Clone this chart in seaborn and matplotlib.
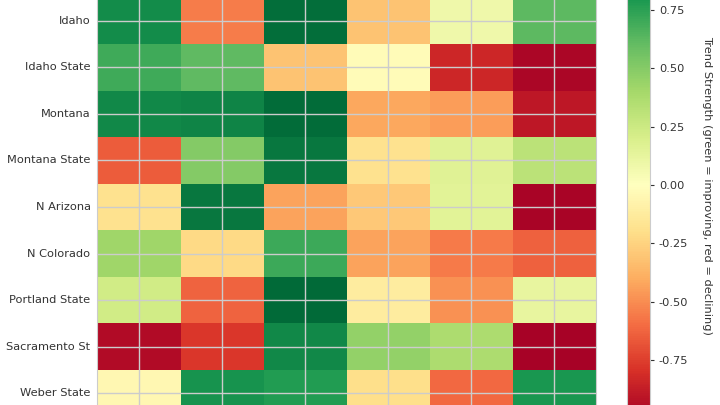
import numpy as np
import pandas as pd
import matplotlib
matplotlib.use("Agg")
import matplotlib.pyplot as plt
import seaborn as sns

# teams shown in the heatmap (rows)
teams = ["Idaho", "Idaho State", "Montana", "Montana State", "N Arizona",
         "N Colorado", "Portland State", "Sacramento St", "Weber State"]

# columns (their labels fall below the visible area)
metrics = ["Metric 1", "Metric 2", "Metric 3", "Metric 4", "Metric 5", "Metric 6"]

# trend strength per team
idaho = [0.85, -0.55, 0.97, -0.32, 0.08, 0.62]
idaho_state = [0.70, 0.61, -0.32, -0.03, -0.84, -0.97]
montana = [0.86, 0.88, 0.98, -0.42, -0.45, -0.90]
montana_state = [-0.65, 0.50, 0.93, -0.18, 0.16, 0.32]
n_arizona = [-0.18, 0.93, -0.43, -0.29, 0.15, -0.98]
n_colorado = [0.42, -0.22, 0.71, -0.43, -0.56, -0.64]
portland_state = [0.23, -0.63, 0.99, -0.12, -0.49, 0.12]
sacramento_st = [-0.95, -0.78, 0.86, 0.46, 0.37, -0.99]
weber_state = [-0.05, 0.82, 0.78, -0.20, -0.61, 0.80]

df = pd.DataFrame([idaho, idaho_state, montana, montana_state, n_arizona,
                   n_colorado, portland_state, sacramento_st, weber_state],
                  index=teams, columns=metrics)

sns.set_style("whitegrid")

fig = plt.figure(figsize=(7.2, 4.05), dpi=100)
# the heatmap runs past the top and bottom of the frame
ax = fig.add_axes([0.1354, -0.0286, 0.6924, 1.0349])
cax = fig.add_axes([0.8715, -0.0326, 0.0319, 1.1516])

sns.heatmap(df, ax=ax, cbar_ax=cax, cmap="RdYlGn", vmin=-1, vmax=1,
            cbar_kws={"ticks": [-0.75, -0.5, -0.25, 0, 0.25, 0.5, 0.75]})
ax.set_axisbelow(False)
ax.grid(True, color="#cccccc", linewidth=1)
ax.tick_params(axis="y", labelsize=8.2, labelcolor="#333333", length=0, pad=5)
ax.tick_params(axis="x", labelbottom=False, length=0)
ax.set_yticklabels(teams, rotation=0)
ax.set_ylabel("")
for s in ax.spines.values():
    s.set_visible(True)
    s.set_color("#cccccc")

cax.tick_params(labelsize=8.2, labelcolor="#333333", length=3, color="#333333", pad=3)
cax.yaxis.set_major_formatter(matplotlib.ticker.FormatStrFormatter("%.2f"))
cax.set_ylabel("Trend Strength (green = improving, red = declining)",
               rotation=270, labelpad=17, fontsize=8.2, color="#333333")
for s in cax.spines.values():
    s.set_visible(True)
    s.set_color("#cccccc")

fig.savefig("out.png", dpi=100)
